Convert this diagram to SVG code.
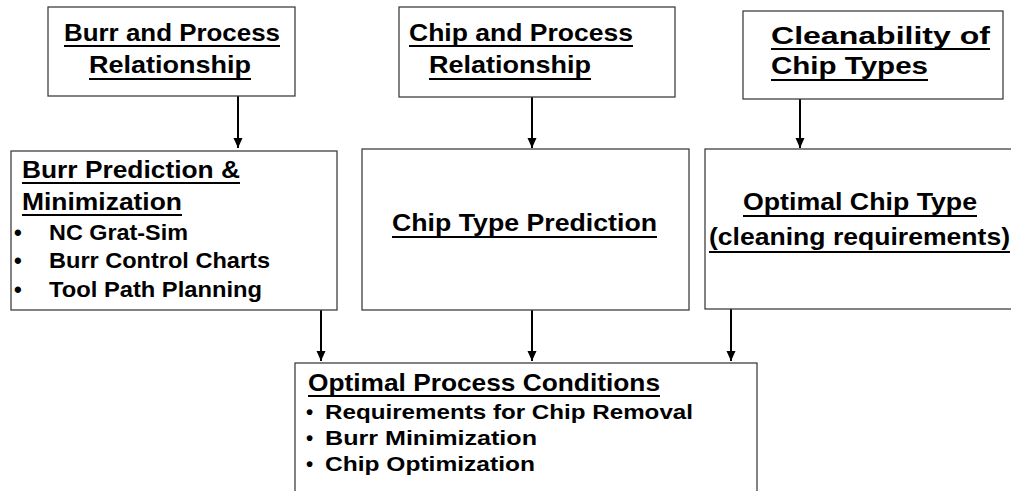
<svg xmlns="http://www.w3.org/2000/svg" width="1011" height="491" viewBox="0 0 1011 491">
<defs>
<marker id="ah" markerUnits="userSpaceOnUse" markerWidth="10" markerHeight="11" refX="10" refY="5" orient="auto">
<path d="M0,0.5 L10,5 L0,9.5 Z" fill="#000"/>
</marker>
<style>
.box{fill:#fff;stroke:#404040;stroke-width:1.3}
.h{font-family:"Liberation Sans",Arial,sans-serif;font-weight:bold;font-size:24px;fill:#000}
.b{font-family:"Liberation Sans",Arial,sans-serif;font-weight:bold;font-size:22px;fill:#000}
.s{font-family:"Liberation Sans",Arial,sans-serif;font-weight:bold;font-size:20.5px;fill:#000}
.u{stroke:#000;stroke-width:1.8}
.c{stroke:#000;stroke-width:2;fill:none;marker-end:url(#ah)}
</style>
</defs>
<rect width="1011" height="491" fill="#fff"/>
<g id="connectors">
<line class="c" x1="238" y1="96" x2="238" y2="148"/>
<line class="c" x1="532" y1="97" x2="532" y2="148"/>
<line class="c" x1="800" y1="99" x2="800" y2="148"/>
<line class="c" x1="321" y1="310" x2="321" y2="361"/>
<line class="c" x1="532" y1="310" x2="532" y2="361"/>
<line class="c" x1="731" y1="309" x2="731" y2="361"/>
</g>
<g id="burr-process">
<rect class="box" x="48" y="7" width="247" height="89"/>
<text class="h" x="64" y="41" textLength="216" lengthAdjust="spacingAndGlyphs">Burr and Process</text>
<line class="u" x1="64" y1="46" x2="280" y2="46"/>
<text class="h" x="89" y="73" textLength="162" lengthAdjust="spacingAndGlyphs">Relationship</text>
<line class="u" x1="89" y1="79" x2="251" y2="79"/>
</g>
<g id="chip-process">
<rect class="box" x="399" y="7" width="276" height="90"/>
<text class="h" x="409" y="41" textLength="224" lengthAdjust="spacingAndGlyphs">Chip and Process</text>
<line class="u" x1="409" y1="46" x2="633" y2="46"/>
<text class="h" x="429" y="73" textLength="162" lengthAdjust="spacingAndGlyphs">Relationship</text>
<line class="u" x1="429" y1="79" x2="591" y2="79"/>
</g>
<g id="cleanability">
<rect class="box" x="743" y="11" width="260" height="88"/>
<text class="h" x="771" y="44" textLength="219" lengthAdjust="spacingAndGlyphs">Cleanability of</text>
<line class="u" x1="771" y1="49" x2="990" y2="49"/>
<text class="h" x="771" y="74" textLength="157" lengthAdjust="spacingAndGlyphs">Chip Types</text>
<line class="u" x1="771" y1="80" x2="928" y2="80"/>
</g>
<g id="burr-prediction">
<rect class="box" x="11" y="151" width="326" height="159"/>
<text class="h" x="22" y="178" textLength="218" lengthAdjust="spacingAndGlyphs">Burr Prediction &amp;</text>
<line class="u" x1="22" y1="183" x2="240" y2="183"/>
<text class="h" x="22" y="210" textLength="160" lengthAdjust="spacingAndGlyphs">Minimization</text>
<line class="u" x1="22" y1="215" x2="182" y2="215"/>
<text class="b" x="14" y="240">•</text>
<text class="b" x="49" y="240" textLength="139" lengthAdjust="spacingAndGlyphs">NC Grat-Sim</text>
<text class="b" x="14" y="268">•</text>
<text class="b" x="49" y="268" textLength="221" lengthAdjust="spacingAndGlyphs">Burr Control Charts</text>
<text class="b" x="14" y="297">•</text>
<text class="b" x="49" y="297" textLength="213" lengthAdjust="spacingAndGlyphs">Tool Path Planning</text>
</g>
<g id="chip-type-prediction">
<rect class="box" x="362" y="149" width="327" height="161"/>
<text class="h" x="392" y="231" textLength="265" lengthAdjust="spacingAndGlyphs">Chip Type Prediction</text>
<line class="u" x1="392" y1="237" x2="657" y2="237"/>
</g>
<g id="optimal-chip-type">
<rect class="box" x="705" y="149" width="320" height="160"/>
<text class="h" x="743" y="210" textLength="234" lengthAdjust="spacingAndGlyphs">Optimal Chip Type</text>
<line class="u" x1="743" y1="216" x2="977" y2="216"/>
<text class="h" x="709" y="245" textLength="301" lengthAdjust="spacingAndGlyphs">(cleaning requirements)</text>
<line class="u" x1="709" y1="252" x2="1010" y2="252"/>
</g>
<g id="optimal-process">
<rect class="box" x="295" y="363" width="462" height="140"/>
<text class="h" x="308" y="391" textLength="352" lengthAdjust="spacingAndGlyphs">Optimal Process Conditions</text>
<line class="u" x1="308" y1="396" x2="660" y2="396"/>
<text class="s" x="306" y="419">•</text>
<text class="s" x="325" y="419" textLength="368" lengthAdjust="spacingAndGlyphs">Requirements for Chip Removal</text>
<text class="s" x="306" y="445">•</text>
<text class="s" x="325" y="445" textLength="212" lengthAdjust="spacingAndGlyphs">Burr Minimization</text>
<text class="s" x="306" y="471">•</text>
<text class="s" x="325" y="471" textLength="210" lengthAdjust="spacingAndGlyphs">Chip Optimization</text>
</g>
</svg>
